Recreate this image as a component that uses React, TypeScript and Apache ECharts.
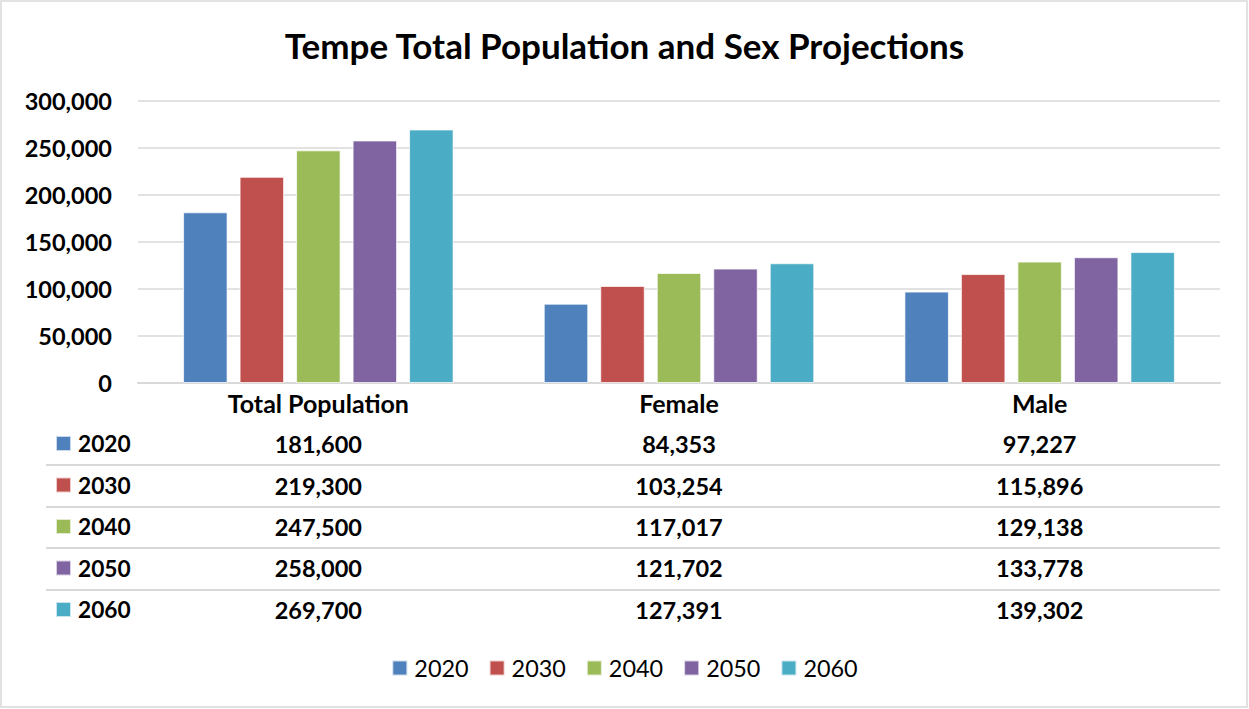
import React, { useEffect, useRef } from "react";
import * as echarts from "echarts";

const categories = ["Total Population", "Female", "Male"];
const years = ["2020", "2030", "2040", "2050", "2060"];
const v2020 = [181600, 84353, 97227];
const v2030 = [219300, 103254, 115896];
const v2040 = [247500, 117017, 129138];
const v2050 = [258000, 121702, 133778];
const v2060 = [269700, 127391, 139302];
const seriesValues = [v2020, v2030, v2040, v2050, v2060];
const colors = ["#4F81BD", "#C0504D", "#9BBB59", "#8064A2", "#4BACC6"];

const FONT = "Lato";
const fmt = (n: number) => n.toLocaleString("en-US");

export default function App() {
  const ref = useRef<HTMLDivElement>(null);
  useEffect(() => {
    const chart = echarts.init(ref.current!, null, { renderer: "svg" });
    const gridTop = 101;
    const gridBottomY = 383;
    const rowCenters = [444, 486, 527, 568, 610];
    const rowLines = [465, 507, 548, 590];

    const tableAxes = seriesValues.map((vals, i) => ({
      type: "category",
      gridIndex: 0,
      position: "bottom",
      offset: rowCenters[i] - gridBottomY,
      data: vals.map(fmt),
      axisLine: { show: false },
      axisTick: { show: false },
      axisLabel: {
        margin: 0,
        verticalAlign: "middle",
        fontFamily: FONT,
        fontWeight: "bold",
        fontSize: 23.5,
        color: "#000",
      },
    }));

    chart.setOption({
      animation: false,
      backgroundColor: "#fff",
      color: colors,
      textStyle: { fontFamily: FONT },
      title: {
        text: "Tempe Total Population and Sex Projections",
        left: "center",
        top: 22,
        textStyle: { fontFamily: FONT, fontWeight: "bold", fontSize: 35, color: "#000" },
      },
      legend: [
        {
          data: years,
          top: 656,
          left: "center",
          padding: 0,
          itemWidth: 15,
          itemHeight: 15,
          itemGap: 20,
          selectedMode: false,
          icon: "rect",
          textStyle: { fontFamily: FONT, fontSize: 23.4, lineHeight: 24, color: "#000", padding: [0, 0, 0, 2] },
        },
        {
          data: years,
          orient: "vertical",
          left: 55,
          top: 432,
          padding: 0,
          itemWidth: 15,
          itemHeight: 15,
          itemGap: 18.5,
          selectedMode: false,
          icon: "rect",
          textStyle: { fontFamily: FONT, fontWeight: "bold", fontSize: 22.7, color: "#000", padding: [0, 0, 0, 2] },
        },
      ],
      grid: { left: 138, right: 29, top: gridTop, height: gridBottomY - gridTop, containLabel: false },
      xAxis: [
        {
          type: "category",
          data: categories,
          axisLine: { lineStyle: { color: "#d9d9d9", width: 2 } },
          axisTick: { show: false },
          axisLabel: {
            margin: 20,
            verticalAlign: "middle",
            fontFamily: FONT,
            fontWeight: "bold",
            fontSize: 25,
            color: "#000",
          },
        },
        ...tableAxes,
      ],
      yAxis: {
        type: "value",
        min: 0,
        max: 300000,
        interval: 50000,
        axisLine: { show: false },
        axisTick: { show: false },
        splitLine: { lineStyle: { color: "#d9d9d9", width: 1.5 } },
        axisLabel: {
          margin: 26,
          fontFamily: FONT,
          fontWeight: "bold",
          fontSize: 23.5,
          color: "#000",
          formatter: (v: number) => fmt(v),
        },
      },
      series: years.map((y, i) => ({
        name: y,
        type: "bar",
        xAxisIndex: 0,
        data: seriesValues[i],
        barGap: "27%",
        barCategoryGap: "25%",
        itemStyle: { color: colors[i], borderColor: "rgba(255,255,255,0.7)", borderWidth: 1 },
      })),
      graphic: [
        {
          type: "rect",
          shape: { x: 1, y: 1, width: 1246, height: 706 },
          style: { fill: "none", stroke: "#d9d9d9", lineWidth: 1.5 },
          silent: true,
        },
        ...rowLines.map((y) => ({
          type: "line",
          shape: { x1: 46, y1: y, x2: 1220, y2: y },
          style: { stroke: "#d9d9d9", lineWidth: 2 },
          silent: true,
        })),
      ],
    });
    return () => chart.dispose();
  }, []);
  return (
    <div
      ref={ref}
      style={{ position: "fixed", left: 0, top: 0, width: 1249, height: 709 }}
    />
  );
}
